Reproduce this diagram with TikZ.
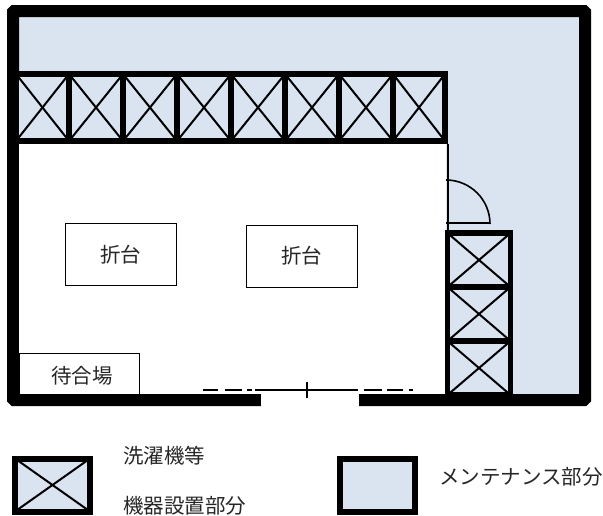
\documentclass[tikz,border=0pt]{standalone}
\usepackage{fontspec}
\setmainfont{Noto Sans CJK JP}
\usepackage{tikz}
\definecolor{maint}{HTML}{DAE3F0}

\tikzset{
    room/.style={draw, line width=#1, fill=maint, inner sep=0pt},
    unit/.style={room=5.5pt, minimum width=54pt, minimum height=67pt, path picture={
        \draw [line width=2pt] (path picture bounding box.north west) -- (path picture bounding box.south east);
        \draw [line width=2pt] (path picture bounding box.south west) -- (path picture bounding box.north east);
    }},
    table/.style={draw, line width=1pt, fill=white, inner sep=0pt, minimum width=111pt, minimum height=62pt},
    label/.style={inner sep=0pt, font=\fontsize{20.5}{24}\selectfont, text=black!85},
}

\begin{document}
\begin{tikzpicture}[x=1pt, y=-1pt]
            \useasboundingbox (0, 0) rectangle (603, 515);

            % walls and floor
            \node[room=12pt, minimum width=572pt, minimum height=389pt, rounded corners=1pt] at (299, 205.5) (frame) {};
            \fill [white] (19, 141) rectangle (446, 394);

            % row of machines
            \node[unit, minimum width=53pt] at (42.5, 107.5) (u1) {};
            \node[unit] at (96, 107.5)  (u2) {};
            \node[unit] at (150, 107.5) (u3) {};
            \node[unit] at (204, 107.5) (u4) {};
            \node[unit] at (258, 107.5) (u5) {};
            \node[unit] at (312, 107.5) (u6) {};
            \node[unit] at (366, 107.5) (u7) {};
            \node[unit, minimum width=52pt] at (419, 107.5) (u8) {};

            % column of machines
            \node[unit, minimum width=63pt, minimum height=54pt] at (479, 260) (u9) {};
            \node[unit, minimum width=63pt, minimum height=54pt] at (479, 314) (u10) {};
            \node[unit, minimum width=63pt, minimum height=54pt] at (479, 368) (u11) {};

            % door on the right
            \coordinate (hinge) at (446, 223);
            \coordinate (swing) at (446, 180);
            \coordinate (leaf) at (490, 223);
            \draw [line width=2pt] (u8.south east) -- (u8.south east |- u9.north west);
            \draw [line width=2pt] (hinge) -- (leaf);
            \draw [line width=1.6pt] (swing) arc (-90:0:44);

            % tables
            \node[table, label] at (120.5, 254.5) (t1) {折台};
            \node[table, label] at (301.5, 256) (t2) {折台};
            \node[table, minimum width=120pt, minimum height=41pt] at (79, 373.5) (wait) {};
            \node[label] at (82, 376) (waitlabel) {待合場};

            % entrance
            \fill [white] (261, 392) rectangle (359, 406.5);
            \coordinate (sa) at (203, 390);
            \coordinate (sb) at (413, 390);
            \draw [line width=1.8pt, dash pattern=on 15pt off 7pt on 17pt off 5pt on 5pt off 3pt on 103pt off 6pt on 18pt off 5pt on 16pt off 6pt on 4pt off 9pt] (sa) -- (sb);
            \coordinate (ta) at (307, 382);
            \coordinate (tb) at (307, 398);
            \draw [line width=1.6pt] (ta) -- (tb);

            % legend
            \node[unit, room=6pt, minimum width=75pt, minimum height=53pt] at (52.5, 485) (k1) {};
            \node[room=6pt, minimum width=75pt, minimum height=53pt] at (377.5, 485) (k2) {};
            \node[label, anchor=west] at (123, 456) (k1a) {洗濯機等};
            \node[label, anchor=west] at (123, 506) (k1b) {機器設置部分};
            \node[label, anchor=east] at (603, 477) (k2a) {メンテナンス部分};
        \end{tikzpicture}
\end{document}
